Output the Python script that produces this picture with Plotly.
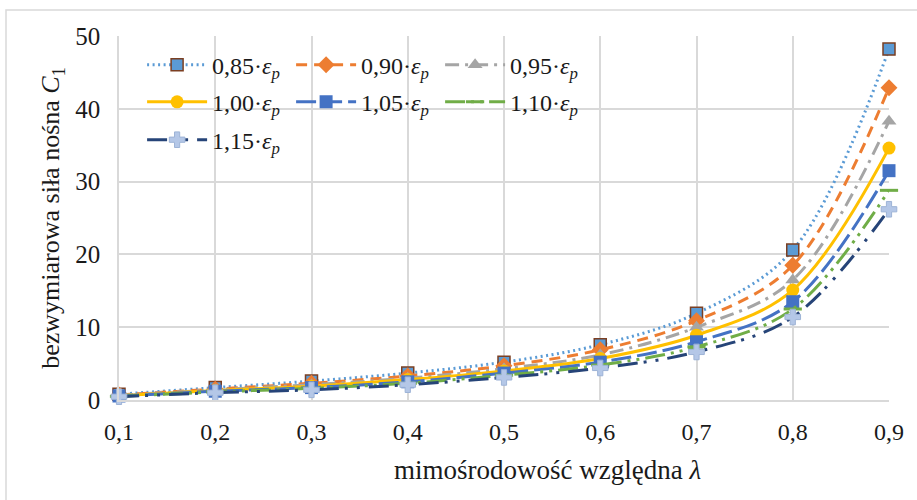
import plotly.graph_objects as go

# eccentricity ratio
lam = [0.1, 0.2, 0.3, 0.4, 0.5, 0.6, 0.7, 0.8, 0.9]

# dimensionless load capacity C1 for each strain factor
c_085 = [0.8, 1.7, 2.6, 3.7, 5.2, 7.6, 11.9, 20.6, 48.2]
c_090 = [0.7, 1.5, 2.3, 3.3, 4.7, 6.9, 10.9, 18.5, 42.9]
c_095 = [0.65, 1.4, 2.1, 3.0, 4.3, 6.2, 10.0, 16.5, 38.3]
c_100 = [0.6, 1.3, 1.9, 2.8, 4.0, 5.7, 8.9, 15.1, 34.6]
c_105 = [0.55, 1.2, 1.7, 2.5, 3.7, 5.2, 8.0, 13.5, 31.5]
c_110 = [0.5, 1.1, 1.6, 2.3, 3.4, 4.8, 7.3, 12.5, 28.8]
c_115 = [0.45, 1.0, 1.4, 2.1, 3.1, 4.4, 6.6, 11.4, 26.2]

x_ticks = [0.1, 0.2, 0.3, 0.4, 0.5, 0.6, 0.7, 0.8, 0.9]
x_tick_text = ["0,1", "0,2", "0,3", "0,4", "0,5", "0,6", "0,7", "0,8", "0,9"]
y_ticks = [0, 10, 20, 30, 40, 50]

EPS = "·<i>ε</i><sub><i>p</i></sub>"
SERIF = "Liberation Serif, Times New Roman, serif"
TXT = "#1A1A1A"

# (label, values, line colour, dash pattern, marker, legend row)
series = [
    ("0,85", c_085, "#5B9BD5", "2px,3.5px", dict(symbol="square", size=12, color="#5B9BD5",
                                                line=dict(color="#7B3F22", width=1.5)), "legend"),
    ("0,90", c_090, "#ED7D31", "11px,7px", dict(symbol="diamond", size=13, color="#ED7D31"), "legend"),
    ("0,95", c_095, "#A5A5A5", "14px,6px,3px,6px", dict(symbol="triangle-up", size=13, color="#A5A5A5"), "legend"),
    ("1,00", c_100, "#FFC000", "solid", dict(symbol="circle", size=13, color="#FFC000"), "legend2"),
    ("1,05", c_105, "#4472C4", "20px,6px", dict(symbol="square", size=13, color="#4472C4"), "legend2"),
    ("1,10", c_110, "#70AD47", "20px,6px,3px,6px,3px,6px", dict(symbol="line-ew", size=13, color="#70AD47",
                                                                 line=dict(color="#70AD47", width=3)), "legend2"),
    ("1,15", c_115, "#264478", "20px,6px,3px,9px,3px,9px", dict(symbol="cross", size=13, color="#B4C7E7",
                                                                 line=dict(color="#9DB3D6", width=1)), "legend3"),
]

fig = go.Figure()
for name, vals, color, dash, marker, leg in series:
    fig.add_trace(go.Scatter(
        x=lam, y=vals, mode="lines+markers", name=name + EPS, legend=leg,
        line=dict(color=color, width=3, dash=dash, shape="spline", smoothing=1.0),
        marker=marker, cliponaxis=False,
    ))


def legend_row(ycenter):
    return dict(
        orientation="h", x=0.03, y=ycenter, xanchor="left", yanchor="middle",
        bgcolor="rgba(0,0,0,0)", itemwidth=60,
        entrywidth=74, entrywidthmode="pixels",
        font=dict(family=SERIF, size=24, color=TXT),
        tracegroupgap=0, itemsizing="trace",
    )


fig.update_layout(
    width=917, height=500,
    margin=dict(l=119, r=28, t=36, b=100),
    paper_bgcolor="white", plot_bgcolor="white",
    font=dict(family=SERIF, size=24, color=TXT),
    showlegend=True,
    legend=legend_row(0.920),
    legend2=legend_row(0.818),
    legend3=legend_row(0.714),
    xaxis=dict(
        range=[0.1, 0.9], tickvals=x_ticks, ticktext=x_tick_text,
        showgrid=True, gridcolor="#D9D9D9", gridwidth=1.5,
        showline=True, linecolor="#D9D9D9", linewidth=1.5, mirror=False,
        zeroline=False, ticks="", ticklabelstandoff=9,
        tickfont=dict(family=SERIF, size=24, color=TXT),
    ),
    yaxis=dict(
        range=[0, 50], tickvals=y_ticks,
        showgrid=True, gridcolor="#D9D9D9", gridwidth=1.5,
        showline=True, linecolor="#D9D9D9", linewidth=1.5,
        zeroline=False, ticks="", ticklabelstandoff=12,
        tickfont=dict(family=SERIF, size=25, color=TXT),
        title=dict(text="bezwymiarowa siła nośna <i>C</i><sub>1</sub>", standoff=8,
                   font=dict(family=SERIF, size=26, color=TXT)),
    ),
)

# x-axis title, set slightly right of the plot centre
fig.add_annotation(text="mimośrodowość względna <i>λ</i>", xref="paper", yref="paper",
                   x=0.557, y=-0.192, xanchor="center", yanchor="middle", showarrow=False,
                   font=dict(family=SERIF, size=27, color=TXT))

# outer frame of the chart area
fig.add_shape(type="rect", xref="paper", yref="paper",
              x0=(6 - 119) / 770, x1=(930 - 119) / 770,
              y0=(400 - 520) / 364, y1=(400 - 10) / 364,
              line=dict(color="#D9D9D9", width=1.5), layer="below")

fig.write_html("out.html")
